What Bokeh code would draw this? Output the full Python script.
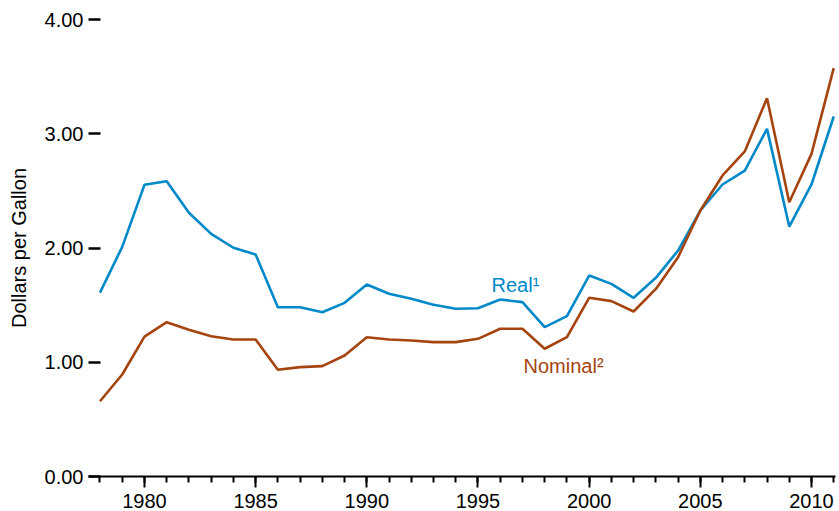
from bokeh.plotting import figure
from bokeh.models import SingleIntervalTicker, FixedTicker, NumeralTickFormatter, Range1d, Label
from bokeh.embed import file_html
from bokeh.resources import INLINE

years = list(range(1978, 2012))
real = [1.61, 2.01, 2.553, 2.585, 2.308, 2.124, 2.002, 1.943, 1.482, 1.482,
        1.438, 1.52, 1.681, 1.599, 1.555, 1.503, 1.468, 1.473, 1.549, 1.526,
        1.307, 1.403, 1.759, 1.686, 1.564, 1.739, 1.978, 2.328, 2.556, 2.678,
        3.043, 2.188, 2.556, 3.151]
nominal = [0.659, 0.893, 1.225, 1.351, 1.284, 1.228, 1.199, 1.199, 0.934, 0.957,
           0.966, 1.059, 1.219, 1.199, 1.19, 1.176, 1.176, 1.205, 1.293, 1.293,
           1.118, 1.22, 1.564, 1.535, 1.444, 1.642, 1.92, 2.328, 2.635, 2.845,
           3.311, 2.401, 2.824, 3.574]
y_ticks = [0, 1, 2, 3, 4]

BLUE = "#0089c8"
BROWN = "#a5440f"
FONT = "Liberation Sans"

p = figure(frame_width=747, frame_height=457, output_backend="svg", toolbar_location=None,
           x_range=Range1d(1977.483, 2011.08), y_range=Range1d(0, 4.0),
           min_border_left=88, min_border_right=4, min_border_top=19, min_border_bottom=30)
p.outline_line_color = None
p.xgrid.visible = False
p.ygrid.visible = False
p.background_fill_color = "white"
p.border_fill_color = "white"

p.line(years, real, line_color=BLUE, line_width=2.6)
p.line(years, nominal, line_color=BROWN, line_width=2.6)

xa = p.xaxis[0]
xa.ticker = SingleIntervalTicker(interval=5, num_minor_ticks=5)
xa.axis_line_width = 2
xa.axis_line_color = "black"
xa.major_tick_line_width = 2
xa.minor_tick_line_width = 2
xa.major_tick_in = 0
xa.major_tick_out = 11
xa.minor_tick_in = 0
xa.minor_tick_out = 6
xa.major_label_text_font = FONT
xa.major_label_text_font_size = "20px"
xa.major_label_text_color = "black"
xa.major_label_standoff = 6

ya = p.yaxis[0]
ya.ticker = FixedTicker(ticks=y_ticks)
ya.formatter = NumeralTickFormatter(format="0.00")
ya.axis_line_color = None
ya.major_tick_line_width = 2.5
ya.major_tick_in = 12
ya.major_tick_out = 0
ya.minor_tick_line_color = None
ya.major_label_text_font = FONT
ya.major_label_text_font_size = "20px"
ya.major_label_text_color = "black"
ya.major_label_standoff = 5
ya.axis_label = "Dollars per Gallon"
ya.axis_label_text_font = FONT
ya.axis_label_text_font_size = "20px"
ya.axis_label_text_font_style = "normal"
ya.axis_label_text_color = "black"
ya.axis_label_standoff = 12

p.add_layout(Label(x=1995.61, y=1.68, text="Real\u00b9", text_color=BLUE,
                   text_font=FONT, text_font_size="20px", text_baseline="alphabetic"))
p.add_layout(Label(x=1997.05, y=0.963, text="Nominal\u00b2", text_color=BROWN,
                   text_font=FONT, text_font_size="20px", text_baseline="alphabetic"))

open("out.html", "w").write(file_html(p, INLINE))
